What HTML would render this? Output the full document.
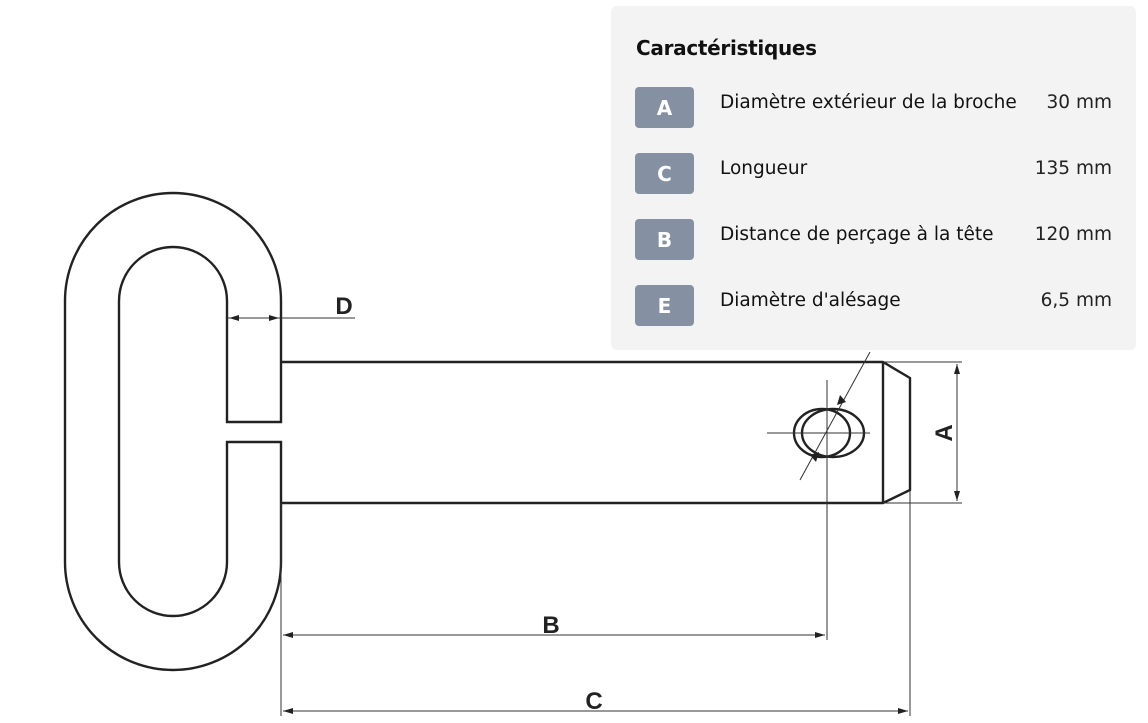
<!DOCTYPE html>
<html><head><meta charset="utf-8"><style>
html,body{margin:0;padding:0;background:#fff;width:1148px;height:723px;overflow:hidden;font-family:"Liberation Sans",sans-serif}
#panel{position:absolute;left:611px;top:6px;width:525px;height:344px;background:#f3f3f3;border-radius:6px}
h1{position:absolute;left:25px;top:29px;margin:0;font-family:"DejaVu Sans",sans-serif;font-size:20px;font-weight:bold;color:#111;line-height:26px;letter-spacing:-0.3px}
.row{position:absolute;left:24px;width:477px;height:41px}
.b{position:absolute;left:0;top:0;width:59px;height:41px;background:#8591a3;border-radius:4px;color:#fff;font-weight:bold;font-size:20px;text-align:center;line-height:43px;font-family:"DejaVu Sans",sans-serif}
.l{position:absolute;left:85px;top:4px;font-family:"DejaVu Sans",sans-serif;font-size:18.5px;color:#111;line-height:24px}
.v{position:absolute;right:0;top:4px;font-family:"DejaVu Sans",sans-serif;font-size:18.5px;color:#222;line-height:24px}
</style></head><body>
<svg width="1148" height="723" style="position:absolute;left:0;top:0" xmlns="http://www.w3.org/2000/svg">
<defs><marker id="ar" markerWidth="10" markerHeight="6" refX="10" refY="3" orient="auto-start-reverse" markerUnits="userSpaceOnUse"><path d="M0,0 L10,3 L0,6z" fill="#222"/></marker></defs>
<g fill="none" stroke="#222" stroke-width="2.4">
<path d="M281,301 A108,108 0 0 0 65,301 L65,562 A108,108 0 0 0 281,562 L281,442 L227,442 L227,562 A54,54 0 0 1 119,562 L119,301 A54,54 0 0 1 227,301 L227,422 L281,422 Z"/>
<path d="M281,362 L883,362 L910,378 L910,490 L883,503 L281,503"/>
<line x1="883" y1="362" x2="883" y2="503"/>
<ellipse cx="822" cy="433" rx="28" ry="24"/>
<ellipse cx="833" cy="433" rx="31" ry="24"/>
</g>
<g fill="none" stroke="#333" stroke-width="1">
<line x1="767" y1="433" x2="870" y2="433"/>
<line x1="827" y1="380" x2="827" y2="640"/>
<line x1="870" y1="352" x2="800" y2="480"/>
<line x1="227" y1="318" x2="355" y2="318"/>
<line x1="883" y1="362" x2="962" y2="362"/>
<line x1="883" y1="503" x2="962" y2="503"/>
<line x1="957" y1="364" x2="957" y2="501" marker-start="url(#ar)" marker-end="url(#ar)"/>
<line x1="281" y1="503" x2="281" y2="716"/>
<line x1="910" y1="490" x2="910" y2="716"/>
<line x1="283" y1="635" x2="825" y2="635" marker-start="url(#ar)" marker-end="url(#ar)"/>
<line x1="283" y1="711" x2="908" y2="711" marker-start="url(#ar)" marker-end="url(#ar)"/>
<line x1="229" y1="318" x2="245" y2="318" marker-start="url(#ar)"/>
<line x1="263" y1="318" x2="279" y2="318" marker-end="url(#ar)"/>
</g>
<path d="M840,395 L846,402 L837,405z M816,462 L810,455 L819,452z" fill="#222"/>
<g font-family="Liberation Sans" font-weight="bold" font-size="24" fill="#222" text-anchor="middle">
<text x="344" y="314">D</text>
<text x="551" y="633">B</text>
<text x="594" y="709">C</text>
<text x="0" y="0" transform="translate(952,433) rotate(-90)">A</text>
</g>
</svg>
<div id="panel">
<h1>Caractéristiques</h1>
<div class="row" style="top:81px"><div class="b">A</div><div class="l">Diamètre extérieur de la broche</div><div class="v">30 mm</div></div>
<div class="row" style="top:147px"><div class="b">C</div><div class="l">Longueur</div><div class="v">135 mm</div></div>
<div class="row" style="top:213px"><div class="b">B</div><div class="l">Distance de perçage à la tête</div><div class="v">120 mm</div></div>
<div class="row" style="top:279px"><div class="b">E</div><div class="l">Diamètre d'alésage</div><div class="v">6,5 mm</div></div>
</div>
</body></html>
